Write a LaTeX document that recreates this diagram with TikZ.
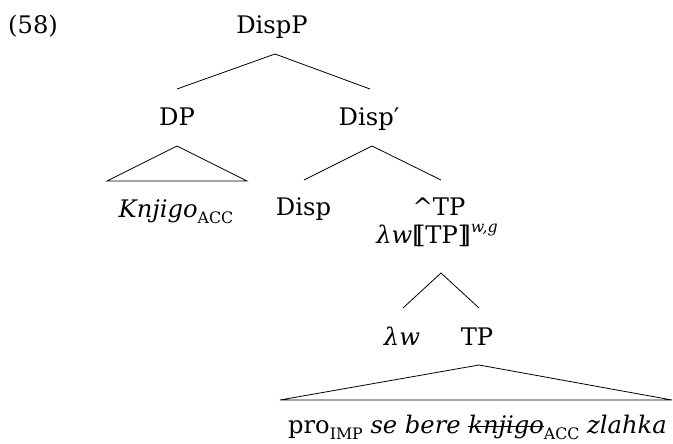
\documentclass[tikz,border=0pt]{standalone}
\usepackage{fontspec}
\setmainfont{DejaVu Serif}
\usetikzlibrary{calc}
\newsavebox{\strkbox}
\newcommand{\strk}[1]{\sbox{\strkbox}{#1}\rlap{\rule[0.25em]{\wd\strkbox}{0.9pt}}\usebox{\strkbox}}
\newcommand{\subsc}[1]{\raisebox{-6pt}{\fontsize{15.8}{17}\selectfont #1}}
\newcommand{\supsc}[1]{\raisebox{10pt}{\fontsize{15.8}{17}\selectfont\itshape #1}}
\newcommand{\dblL}{[\kern-0.24em[}
\newcommand{\dblR}{]\kern-0.24em]}
\tikzset{
  lab/.style={anchor=base, inner sep=0pt, font=\fontsize{24.2}{28}\selectfont},
  edge/.style={line width=0.8pt, line join=miter}
}
\begin{document}
\begin{tikzpicture}[x=1pt,y=-1pt]
\useasboundingbox (0,0) rectangle (673,444);
\node[lab, anchor=base west] (ex) at (8,34) {(58)};
\node[lab] (dispp) at (272,34) {DispP};
\node[lab] (dp) at (177,125) {DP};
\node[lab] (dispbar) at (369,125) {Disp′};
\node[lab] (knjigo) at (176,217) {\textit{Knjigo}\subsc{ACC}};
\node[lab] (disp) at (303.5,215) {Disp};
\node[lab] (hattp) at (439,215) {\textasciicircum TP};
\node[lab] (lamtp) at (437,243) {\textit{λw}\dblL TP\dblR\supsc{w,g}};
\node[lab] (lamw) at (402,345) {\textit{λw}};
\node[lab] (tp) at (477,345) {TP};
\node[lab] (bottom) at (477.5,433) {pro\subsc{IMP} \textit{se bere} \strk{\textit{knjigo}}\subsc{ACC} \textit{zlahka}};
% DispP
\coordinate (dispp-a) at ($(dispp.base)+(3,20)$);
\draw[edge] ($(dp.base)+(0,-36)$) -- (dispp-a) -- ($(dispbar.base)+(1,-36)$);
% DP triangle
\coordinate (dp-a) at ($(dp.base)+(0,21)$);
\draw[edge] ($(knjigo.base)+(-69,-36)$) -- (dp-a) -- ($(knjigo.base)+(71,-36)$) -- cycle;
% Disp'
\coordinate (dispbar-a) at ($(dispbar.base)+(3,21)$);
\draw[edge] ($(disp.base)+(0.5,-35)$) -- (dispbar-a) -- ($(hattp.base)+(2,-35)$);
% lambda node
\coordinate (lamtp-a) at ($(lamtp.base)+(4,30)$);
\draw[edge] ($(lamw.base)+(1,-37)$) -- (lamtp-a) -- ($(tp.base)+(2,-37)$);
% TP triangle
\coordinate (tp-a) at ($(tp.base)+(2,20)$);
\draw[edge] ($(bottom.base)+(-197.5,-33)$) -- (tp-a) -- ($(bottom.base)+(194.5,-33)$) -- cycle;
\end{tikzpicture}
\end{document}
